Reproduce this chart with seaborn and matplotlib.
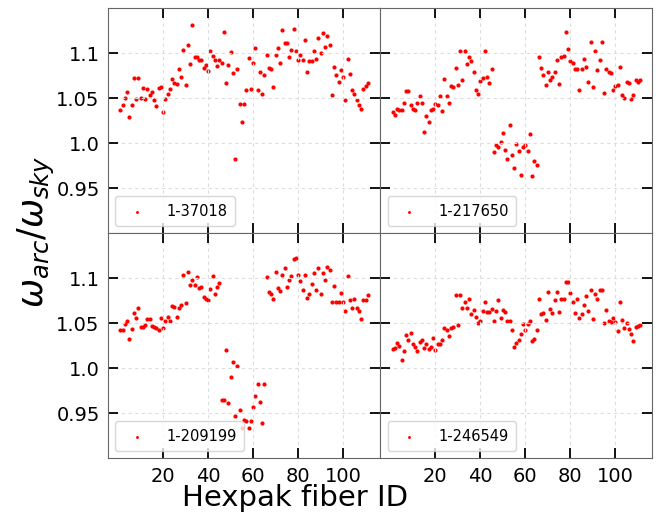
import numpy as np
import pandas as pd
import matplotlib
matplotlib.use("Agg")
import matplotlib.pyplot as plt
import seaborn as sns

# Datos (w_arc / w_sky por fibra)
galaxias = ["1-37018", "1-217650", "1-209199", "1-246549"]

ratio_37018 = [
    1.037, 1.043, 1.050, 1.057, 1.029, 1.042, 1.072, 1.049, 1.073, 1.050,
    1.061, 1.049, 1.060, 1.054, 1.057, 1.048, 1.041, 1.061, 1.063, 1.035,
    1.049, 1.055, 1.060, 1.071, 1.067, 1.066, 1.083, 1.074, 1.104, 1.065,
    1.109, 1.088, 1.131, 1.096, 1.096, 1.092, 1.093, 1.084, 1.087, 1.080,
    1.103, 1.097, 1.093, 1.086, 1.092, 1.089, 1.124, 1.067, 1.087, 1.101,
    1.078, 0.983, 1.083, 1.044, 1.024, 1.044, 1.059, 1.095, 1.060, 1.089,
    1.106, 1.059, 1.079, 1.055, 1.076, 1.098, 1.084, 1.082, 1.062, 1.098,
    1.106, 1.089, 1.126, 1.111, 1.111, 1.096, 1.104, 1.127, 1.103, 1.093,
    1.098, 1.093, 1.115, 1.079, 1.091, 1.091, 1.102, 1.094, 1.117, 1.100,
    1.122, 1.107, 1.119, 1.109, 1.054, 1.085, 1.076, 1.068, 1.081, 1.074,
    1.048, 1.094, 1.077, 1.059, 1.055, 1.048, 1.043, 1.038, 1.060, 1.064,
    1.067,
]

ratio_217650 = [
    1.035, 1.031, 1.038, 1.037, 1.037, 1.045, 1.058, 1.058, 1.043, 1.038,
    1.037, 1.045, 1.053, 1.045, 1.013, 1.030, 1.024, 1.037, 1.038, 1.044,
    1.043, 1.052, 1.036, 1.071, 1.052, 1.045, 1.064, 1.063, 1.084, 1.065,
    1.102, 1.070, 1.102, 1.088, 1.096, 1.091, 1.079, 1.059, 1.055, 1.069,
    1.072, 1.102, 1.074, 1.067, 1.083, 0.990, 0.998, 0.996, 1.001, 1.011,
    0.992, 0.983, 1.020, 0.987, 0.972, 0.999, 0.991, 0.965, 0.996, 0.998,
    0.991, 1.010, 0.964, 0.980, 0.976, 1.096, 1.084, 1.076, 1.065, 1.079,
    1.070, 1.074, 1.079, 1.092, 1.066, 1.096, 1.097, 1.124, 1.105, 1.091,
    1.089, 1.082, 1.083, 1.059, 1.083, 1.094, 1.085, 1.068, 1.113, 1.063,
    1.103, 1.081, 1.093, 1.113, 1.056, 1.083, 1.079, 1.078, 1.059, 1.064,
    1.065, 1.085, 1.054, 1.050, 1.068, 1.067, 1.049, 1.054, 1.070, 1.068,
    1.070,
]

ratio_209199 = [
    1.042, 1.043, 1.049, 1.053, 1.033, 1.044, 1.061, 1.056, 1.067, 1.046,
    1.046, 1.048, 1.055, 1.055, 1.047, 1.046, 1.045, 1.043, 1.056, 1.045,
    1.052, 1.057, 1.053, 1.069, 1.068, 1.057, 1.067, 1.070, 1.104, 1.072,
    1.107, 1.093, 1.098, 1.092, 1.101, 1.089, 1.090, 1.079, 1.077, 1.076,
    1.088, 1.102, 1.083, 1.090, 1.095, 0.965, 0.965, 1.020, 0.961, 0.990,
    1.007, 0.947, 1.003, 0.954, 0.934, 0.942, 0.941, 0.934, 0.941, 0.957,
    0.969, 0.982, 0.963, 0.939, 0.982, 1.101, 1.085, 1.083, 1.077, 1.107,
    1.089, 1.086, 1.104, 1.111, 1.090, 1.098, 1.102, 1.121, 1.122, 1.104,
    1.097, 1.087, 1.104, 1.078, 1.083, 1.094, 1.106, 1.087, 1.111, 1.082,
    1.106, 1.098, 1.113, 1.109, 1.074, 1.091, 1.074, 1.074, 1.084, 1.074,
    1.064, 1.102, 1.076, 1.067, 1.077, 1.067, 1.064, 1.055, 1.076, 1.076,
    1.081,
]

ratio_246549 = [
    1.021, 1.023, 1.028, 1.025, 1.009, 1.019, 1.037, 1.031, 1.039, 1.027,
    1.024, 1.019, 1.029, 1.031, 1.022, 1.027, 1.021, 1.024, 1.034, 1.020,
    1.027, 1.027, 1.031, 1.045, 1.043, 1.036, 1.045, 1.046, 1.081, 1.048,
    1.081, 1.067, 1.074, 1.067, 1.077, 1.060, 1.065, 1.057, 1.050, 1.052,
    1.064, 1.074, 1.062, 1.062, 1.066, 1.052, 1.064, 1.076, 1.056, 1.065,
    1.063, 1.053, 1.052, 1.043, 1.024, 1.028, 1.031, 1.038, 1.049, 1.042,
    1.049, 1.052, 1.030, 1.033, 1.042, 1.077, 1.060, 1.061, 1.054, 1.085,
    1.066, 1.061, 1.076, 1.085, 1.063, 1.077, 1.077, 1.096, 1.096, 1.084,
    1.074, 1.061, 1.077, 1.056, 1.060, 1.070, 1.080, 1.064, 1.087, 1.055,
    1.082, 1.077, 1.087, 1.087, 1.050, 1.065, 1.052, 1.051, 1.056, 1.051,
    1.041, 1.074, 1.054, 1.045, 1.050, 1.044, 1.038, 1.030, 1.046, 1.047,
    1.048,
]

series = [ratio_37018, ratio_217650, ratio_209199, ratio_246549]

xticks = [20, 40, 60, 80, 100]
yticks = [0.95, 1.0, 1.05, 1.1]
ytick_labels = ["0.95", "1.0", "1.05", "1.1"]

fig, axes = plt.subplots(2, 2, sharex=True, sharey=True, figsize=(6.59, 5.16), dpi=100)
plt.subplots_adjust(left=0.164, right=0.99, top=0.984, bottom=0.112, wspace=0, hspace=0)

for ax, nombre, valores in zip(axes.flat, galaxias, series):
    df = pd.DataFrame({"fibra": np.arange(1, len(valores) + 1), "ratio": valores})
    sns.scatterplot(data=df, x="fibra", y="ratio", ax=ax, color="red", s=9,
                    linewidth=0, label=nombre)
    ax.grid(True, linestyle=(0, (3, 3)), color="#dddddd", linewidth=0.8)
    ax.tick_params(direction="in", top=True, right=True, length=7, width=1.3,
                   labelsize=14, pad=6)
    ax.set_xlabel("")
    ax.set_ylabel("")
    for s in ax.spines.values():
        s.set_color("#666666")
    ax.legend(loc="lower left", fontsize=10.5, markerscale=0.7, handletextpad=1.0,
              borderpad=0.5)

ax = axes[0, 0]
ax.set_xlim(-4.5, 116.5)
ax.set_ylim(0.9, 1.15)
ax.set_xticks(xticks)
ax.set_yticks(yticks, ytick_labels)

fig.text(0.448, 0.035, "Hexpak fiber ID", ha="center", va="center", fontsize=21)
fig.text(0.055, 0.55, r"$\omega_{arc}/\omega_{sky}$", ha="center", va="center",
         rotation=90, fontsize=25)

plt.savefig("out.png", dpi=100)
